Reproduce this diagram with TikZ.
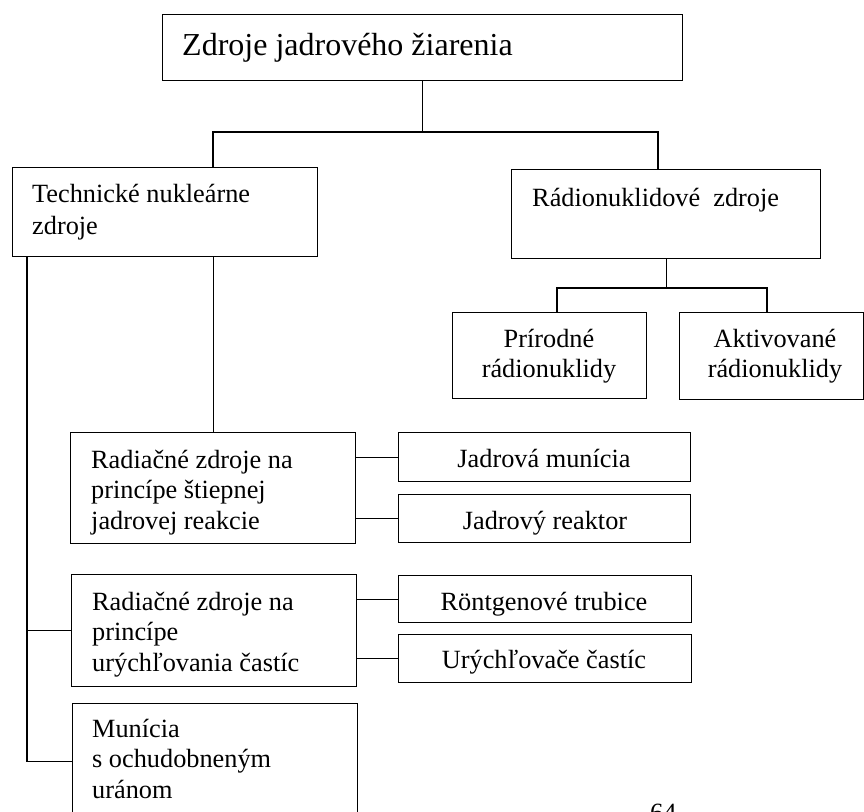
\documentclass[tikz,border=0pt]{standalone}
\usepackage{fontspec}
\setmainfont{Liberation Serif}
\begin{document}
\begin{tikzpicture}[x=1pt,y=-1pt,
  box/.style={draw, line width=1.4pt, inner sep=0pt, anchor=north west},
  lbl/.style={inner sep=0pt, font=\fontsize{26.3}{30.5}\selectfont},
  conn/.style={line width=1.1pt}]
\useasboundingbox (0,0) rectangle (864,811);
% boxes
\node[box, minimum width=520, minimum height=66] (top) at (162,14) {};
\node[box, minimum width=305, minimum height=89] (tech) at (12,167) {};
\node[box, minimum width=309, minimum height=89] (rad) at (511,169) {};
\node[box, minimum width=194, minimum height=86] (prir) at (452,312) {};
\node[box, minimum width=184, minimum height=87] (akt) at (679,312) {};
\node[box, minimum width=285, minimum height=111] (rad1) at (70,432) {};
\node[box, minimum width=292, minimum height=49] (jm) at (398,432) {};
\node[box, minimum width=292, minimum height=48] (jr) at (398,494) {};
\node[box, minimum width=285, minimum height=112] (rad2) at (71,574) {};
\node[box, minimum width=293, minimum height=47] (rt) at (398,575) {};
\node[box, minimum width=293, minimum height=48] (ur) at (398,634) {};
\node[box, minimum width=285, minimum height=116] (mun) at (72,703) {};
% texts
\node[lbl, font=\fontsize{32}{38}\selectfont, anchor=base west] (topT) at (182,55) {Zdroje jadrového žiarenia};
\node[lbl, anchor=base west] (techT) at (32,202) {\parbox[t]{280pt}{\raggedright Technické nukleárne\\[1.5pt]zdroje}};
\node[lbl, anchor=base west] (radT) at (532,206) {Rádionuklidové\ \ zdroje};
\node[lbl, anchor=base] (prirT) at (549,347) {\parbox[t]{190pt}{\centering Prírodné\\rádionuklidy}};
\node[lbl, anchor=base] (aktT) at (775,347) {\parbox[t]{190pt}{\centering Aktivované\\rádionuklidy}};
\node[lbl, anchor=base west] (rad1T) at (91,468) {\parbox[t]{260pt}{\raggedright Radiačné zdroje na\\princípe štiepnej\\jadrovej reakcie}};
\node[lbl, anchor=base west] (rad2T) at (92,610) {\parbox[t]{260pt}{\raggedright Radiačné zdroje na\\princípe\\urýchľovania častíc}};
\node[lbl, anchor=base west] (munT) at (92,737) {\parbox[t]{260pt}{\raggedright Munícia\\s ochudobneným\\uránom}};
\node[lbl, anchor=base] (jmT) at (544,467) {Jadrová munícia};
\node[lbl, anchor=base] (jrT) at (545,529) {Jadrový reaktor};
\node[lbl, anchor=base] (rtT) at (544,610) {Röntgenové trubice};
\node[lbl, anchor=base] (urT) at (544,668) {Urýchľovače častíc};
\node[lbl, anchor=base west] (pg) at (650,821) {64};
% connectors
\coordinate (h1) at (213,132);
\coordinate (h2) at (658,132);
\draw[conn] (top.south) -- (top.south |- h1);
\draw[conn] (h1 |- tech.north) -- (h1) -- (h2) -- (h2 |- rad.north);
\coordinate (h3) at (557,288);
\coordinate (h4) at (767,288);
\draw[conn] (rad.south) -- (rad.south |- h3);
\draw[conn] (h3 |- prir.north) -- (h3) -- (h4) -- (h4 |- akt.north);
\draw[conn] (tech.south -| rad1.north) -- (rad1.north);
\coordinate (sp) at (27,700);
\draw[conn] (tech.south -| sp) |- (mun.west);
\draw[conn] (sp |- rad2.west) -- (rad2.west);
\draw[conn] (rad1.east |- jm.west) -- (jm.west);
\draw[conn] (rad1.east |- jr.west) -- (jr.west);
\draw[conn] (rad2.east |- rt.west) -- (rt.west);
\draw[conn] (rad2.east |- ur.west) -- (ur.west);
\end{tikzpicture}
\end{document}
